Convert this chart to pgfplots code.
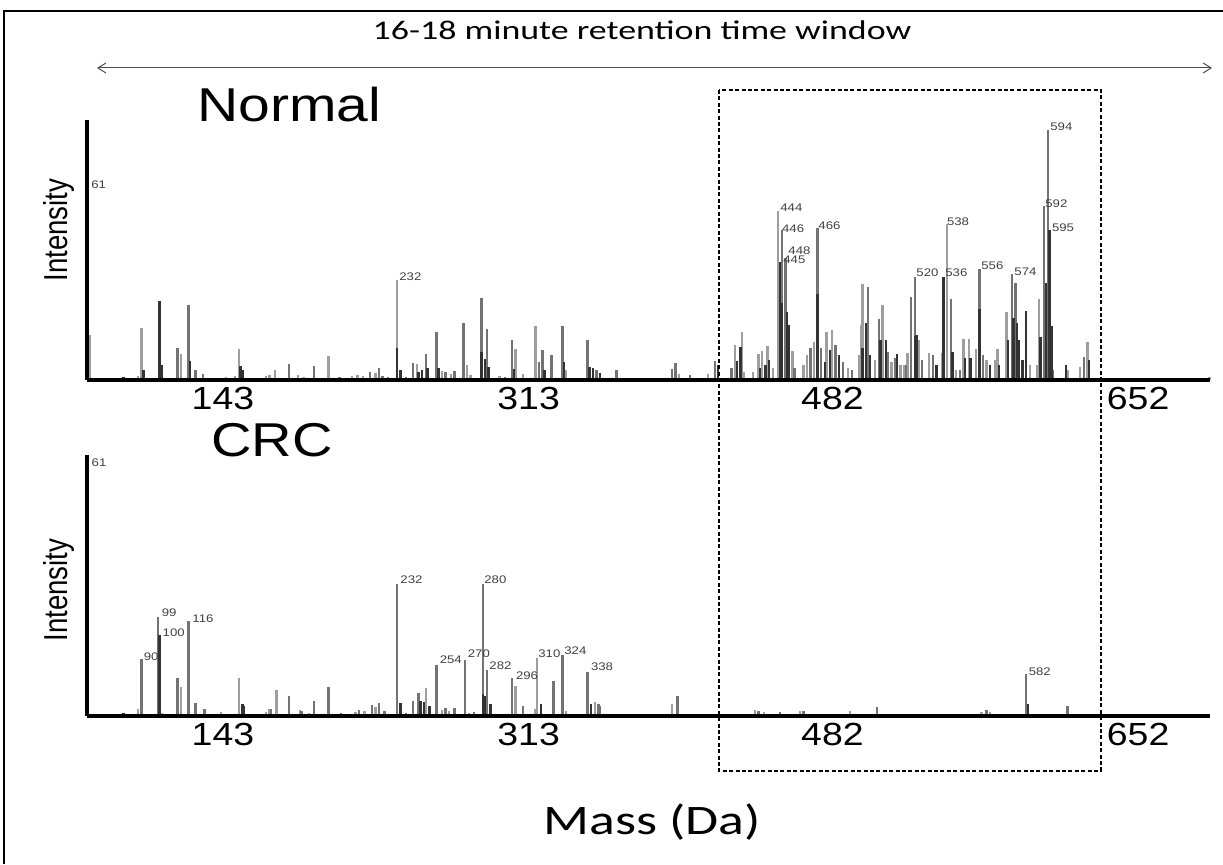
\documentclass[border=0pt]{standalone}
\usepackage{fontspec}
\setmainfont{Liberation Sans}
\newfontfamily\calfont{Carlito}
\usepackage{pgfplots}
\pgfplotsset{compat=1.18}
\usetikzlibrary{arrows.meta}
\definecolor{cL}{gray}{0.62}
\definecolor{cM}{gray}{0.45}
\definecolor{cD}{gray}{0.2}
\pgfplotsset{mspec/.style={
  scale only axis, width=561.5pt, xmin=59.6, xmax=684.2, ymin=0,
  enlargelimits=false,
  axis x line=bottom, axis y line=left,
  x axis line style={-, line width=2.4pt},
  xtick={143,313,482,652},
  xticklabels={\scalebox{1.17}[1]{143},\scalebox{1.17}[1]{313},\scalebox{1.17}[1]{482},\scalebox{1.17}[1]{652}},
  xticklabel style={font=\fontsize{16pt}{16pt}\selectfont, anchor=north, inner sep=0pt, yshift=-3.5pt, xshift=-7pt},
  major tick length=0pt, ytick=\empty,
  clip=false, axis on top,
}}
\tikzset{
  bL/.style={ycomb, mark=none, color=cL, line width=1.2pt},
  bM/.style={ycomb, mark=none, color=cM, line width=1.2pt},
  bD/.style={ycomb, mark=none, color=cD, line width=1.2pt},
  plab/.style={anchor=west, inner sep=0pt, font=\fontsize{5.5pt}{6pt}\selectfont, text=black!75},
}
\newcommand{\pl}[3]{\node[plab] at (axis cs:#1,#2) {\scalebox{1.2}[1]{#3}};}
\begin{document}
\begin{tikzpicture}
\path[use as bounding box] (0,0) rectangle (611.5pt,432pt);
\draw[line width=1pt] (2pt,0pt) -- (2pt,426.5pt) -- (611.5pt,426.5pt);
% title and arrow
\node[font=\calfont\fontsize{13.5pt}{16pt}\selectfont] at (321pt,417pt) {\scalebox{1.33}[1]{16-18 minute retention time window}};
\draw[{Straight Barb[length=4pt,width=5pt]}-{Straight Barb[length=4pt,width=5pt]}, line width=0.5pt, black!70] (48.5pt,398pt) -- (606pt,398pt);
% ---------------- Normal ----------------
\begin{axis}[mspec, at={(43.5pt,242pt)}, anchor=south west, height=130pt, ymax=260,
  y axis line style={-, line width=1.6pt}]
\addplot[bL] coordinates {(61,45)(88,4)(90,52)(112,26)(142,4)(144,31)(164,10)(194,24)(220,7)(232,100)(243,16)(271,15)(298,31)(309,54)(326,10)(420,35)(424,48)(433,26)(435,29)(438,34)(444,169)(458,15)(460,25)(464,38)(471,48)(474,50)(489,25)(490,55)(491,96)(498,20)(502,75)(507,18)(512,15)(516,27)(522,40)(528,27)(535,27)(538,156)(547,41)(550,41)(554,31)(560,20)(565,20)(566,31)(571,68)(588,15)(589,81)(616,38)
(134,2)(137,3)(159,4)(161,5)(177,5)(180,3)(207,4)(210,5)(213,4)(257,9)(262,6)(273,5)(289,4)(302,6)(367,2)(389,6)(405,6)(425,8)(430,8)(441,12)(452,29)(483,12)(514,15)(543,10)(584,15)(605,10)(612,13)(627,2)(684,3)};
\addplot[bM] coordinates {(110,32)(116,75)(120,10)(124,6)(172,16)(186,14)(217,8)(222,12)(241,17)(248,26)(254,48)(269,57)(279,82)(282,51)(296,40)(311,18)(313,30)(318,25)(324,54)(338,40)(343,10)(354,10)(385,11)(387,17)(409,19)(418,12)(446,150)(448,122)(462,32)(466,152)(468,32)(476,35)(480,18)(494,93)(500,61)(505,28)(509,22)(518,83)(520,103)(524,20)(530,25)(540,81)(556,111)(558,25)(574,106)(576,97)(592,174)(594,250)(614,23)
(200,3)(224,4)(227,3)(237,3)(259,8)(264,9)(292,3)(378,2)(395,5)(453,12)(485,10)(515,15)(545,10)(597,10)};
\addplot[bD] coordinates {(80,3)(91,10)(100,79)(101,15)(117,19)(145,14)(146,10)(232,32)(234,10)(244,8)(246,10)(249,12)(255,12)(279,28)(281,21)(283,13)(297,11)(314,10)(325,18)(339,13)(341,12)(345,7)(410.5,15)(421,19)(423,33)(434,12)(437,15)(439,20)(445,118)(446,77)(449,68)(450,55)(466,86)(470,18)(473,30)(478,25)(491,32)(493,57)(495,25)(501,40)(504,40)(510,26)(520,44)(521,45)(532,15)(536,103)(541,28)(548,22)(551,22)(556,71)(562,15)(567,15)(572,40)(575,62)(577,57)(578,40)(580,20)(582,69)(590,43)(593,97)(595,150)(596,54)(604,15)(617,20)};
\pl{61.8}{195}{61}
\pl{233.1}{103}{232}
\pl{445}{172}{444}
\pl{446}{151}{446}
\pl{449.5}{129}{448}
\pl{446.7}{120}{445}
\pl{466.2}{154}{466}
\pl{537.7}{158}{538}
\pl{520.7}{107}{520}
\pl{536.8}{107}{536}
\pl{556.8}{114}{556}
\pl{575.2}{108}{574}
\pl{595.2}{253}{594}
\pl{592.4}{176}{592}
\pl{596.1}{152}{595}
\coordinate (rtop) at (axis cs:411.1,290);
\end{axis}
% ---------------- CRC ----------------
\begin{axis}[mspec, at={(43.5pt,74pt)}, anchor=south west, height=130.5pt, ymax=261,
  y axis line style={-, line width=2.4pt}]
\addplot[bL] coordinates {(88,7)(112,29)(144,38)(165,26)(220,9)(248,28)(298,30)(309,7)(310,58)(342,14)(385,12)
(101,3)(134,4)(159,4)(161,7)(178,6)(183,3)(209,4)(214,5)(257,6)(261,5)(272,3)(326,5)(392,2)(423,2)(431,6)(436,4)(456,5)(464,2)(484,5)(557,4)(562,4)};
\addplot[bM] coordinates {(90,57)(99,99)(110,38)(116,95)(120,13)(125,7)(172,20)(186,15)(194,29)(218,11)(222,13)(232,132)(241,15)(244,23)(254,51)(270,56)(280,132)(282,46)(296,38)(302,10)(319,35)(324,61)(338,44)(344,12)(388,20)(582,42)(605,10)
(162,7)(179,5)(201,3)(211,6)(225,5)(237,3)(259,8)(264,8)(275,4)(345,10)(407,1)(433,5)(445,4)(458,5)(470,2)(499,9)(560,6)};
\addplot[bD] coordinates {(80,3)(100,81)(146,12)(147,10)(234,13)(245,15)(247,14)(250,10)(280,22)(281,20)(284,12)(312,12)(340,12)(583,12)};
\pl{62}{253}{61}
\pl{91}{59}{90}
\pl{101}{103}{99}
\pl{101.5}{83}{100}
\pl{118}{97}{116}
\pl{233.7}{136}{232}
\pl{280.4}{136}{280}
\pl{255.6}{56}{254}
\pl{271.2}{62}{270}
\pl{283.2}{50}{282}
\pl{298}{40}{296}
\pl{310.4}{62}{310}
\pl{324.9}{65}{324}
\pl{339.7}{49}{338}
\pl{583.2}{44}{582}
\coordinate (rbot) at (axis cs:623.5,-55);
\end{axis}
\draw[black, line width=0.8pt, dash pattern=on 2pt off 1.2pt] (rtop) rectangle (rbot);
% panel titles and labels
\node[anchor=base west, inner sep=0pt, font=\fontsize{23.75pt}{28pt}\selectfont] at (98.5pt,371pt) {\scalebox{1.2}[1]{Normal}};
\node[anchor=base west, inner sep=0pt, font=\fontsize{23.75pt}{28pt}\selectfont] at (105.5pt,203.5pt) {\scalebox{1.18}[1]{CRC}};
\node[anchor=base, inner sep=0pt, rotate=90, font=\fontsize{13.8pt}{16pt}\selectfont] at (34pt,317pt) {\scalebox{1}[1.2]{Intensity}};
\node[anchor=base, inner sep=0pt, rotate=90, font=\fontsize{13.8pt}{16pt}\selectfont] at (34pt,137pt) {\scalebox{1}[1.2]{Intensity}};
\node[font=\calfont\fontsize{21pt}{24pt}\selectfont] at (326pt,21pt) {\scalebox{1.28}[1]{Mass (Da)}};
\end{tikzpicture}
\end{document}
